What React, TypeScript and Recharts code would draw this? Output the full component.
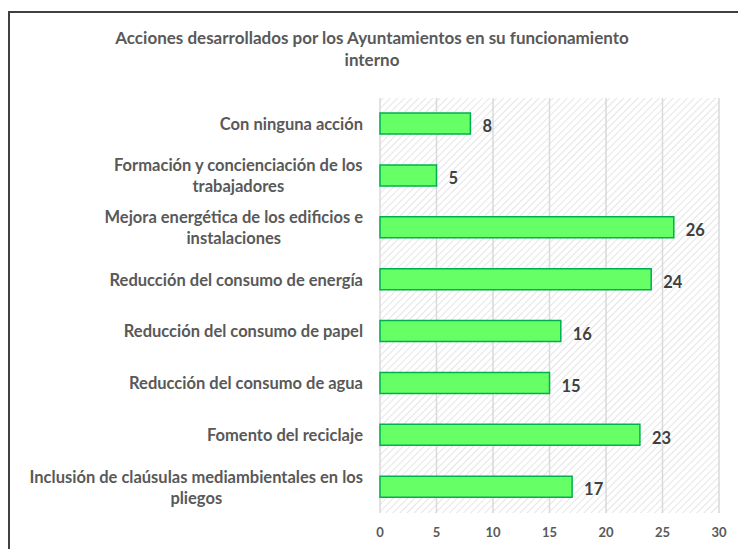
import React from 'react';
import { BarChart, Bar, XAxis, YAxis, CartesianGrid, LabelList } from 'recharts';

const categories = [
  'Con ninguna acción',
  'Formación y concienciación de los\ntrabajadores',
  'Mejora energética de los edificios e\ninstalaciones',
  'Reducción del consumo de energía',
  'Reducción del consumo de papel',
  'Reducción del consumo de agua',
  'Fomento del reciclaje',
  'Inclusión de claúsulas mediambientales en los\npliegos',
];
const values = [8, 5, 26, 24, 16, 15, 23, 17];
const xTicks = [0, 5, 10, 15, 20, 25, 30];

const data = categories.map((name, i) => ({ name, value: values[i] }));

const FONT = 'Lato, "Liberation Sans", sans-serif';
const LABEL_SIZE = 16.5;

let ctx: CanvasRenderingContext2D | null = null;
function textWidth(s: string) {
  if (!ctx) ctx = document.createElement('canvas').getContext('2d');
  if (!ctx) return s.length * 8;
  ctx.font = `bold ${LABEL_SIZE}px ${FONT}`;
  return ctx.measureText(s).width;
}

// centred multi-line category label, right edge of the block near the plot
function CategoryTick(props: any) {
  const { y, payload } = props;
  const lines: string[] = String(payload.value).split('\n');
  const maxW = Math.max(...lines.map(textWidth));
  const cx = 363 - maxW / 2;
  const lh = 21;
  const first = y + 6 - ((lines.length - 1) * lh) / 2;
  return (
    <text
      textAnchor="middle"
      fill="#595959"
      fontFamily={FONT}
      fontWeight="bold"
      fontSize={LABEL_SIZE}
    >
      {lines.map((l, i) => (
        <tspan key={i} x={cx} y={first + i * lh}>
          {l}
        </tspan>
      ))}
    </text>
  );
}

export default function App() {
  return (
    <div
      style={{
        position: 'fixed',
        left: 0,
        top: 0,
        width: 738,
        height: 549,
        overflow: 'hidden',
        background: '#fff',
      }}
    >
      <svg width={0} height={0} style={{ position: 'absolute' }}>
        <defs>
          <pattern
            id="hatch"
            patternUnits="userSpaceOnUse"
            width={5}
            height={5}
            patternTransform="rotate(45)"
          >
            <rect width={5} height={5} fill="#ffffff" />
            <line x1={0} y1={0} x2={0} y2={5} stroke="#d4d4d4" strokeWidth={1.2} />
          </pattern>
        </defs>
      </svg>
      <div
        style={{
          position: 'absolute',
          left: 8,
          top: 11,
          width: 730,
          height: 538,
          borderLeft: '2px solid #404040',
          borderTop: '2px solid #404040',
          boxSizing: 'border-box',
        }}
      />
      <div
        style={{
          position: 'absolute',
          left: 0,
          top: 27,
          width: 738,
          paddingLeft: 6,
          boxSizing: 'border-box',
          textAlign: 'center',
          fontFamily: FONT,
          fontWeight: 'bold',
          fontSize: 17,
          lineHeight: '22px',
          color: '#595959',
        }}
      >
        Acciones desarrollados por los Ayuntamientos en su funcionamiento
        <br />
        interno
      </div>
      <div style={{ position: 'absolute', left: 0, top: 0 }}>
        <BarChart
          width={738}
          height={549}
          data={data}
          layout="vertical"
          margin={{ top: 98, right: 19, bottom: 6, left: 0 }}
        >
          <CartesianGrid
            horizontal={false}
            stroke="#d9d9d9"
            strokeWidth={1.5}
            fill="url(#hatch)"
            fillOpacity={1}
          />
          <XAxis
            type="number"
            domain={[0, 30]}
            ticks={xTicks}
            height={30}
            axisLine={false}
            tickLine={false}
            tickSize={0}
            tickMargin={15}
            tick={{ fill: '#595959', fontSize: 13, fontWeight: 'bold', fontFamily: FONT }}
          />
          <YAxis
            type="category"
            dataKey="name"
            width={380}
            axisLine={false}
            tickLine={false}
            interval={0}
            tick={<CategoryTick />}
          />
          <Bar
            dataKey="value"
            fill="#66ff66"
            stroke="#00b050"
            strokeWidth={1.5}
            barSize={21}
            isAnimationActive={false}
          >
            <LabelList
              dataKey="value"
              position="right"
              offset={12}
              fill="#404040"
              fontFamily={FONT}
              fontWeight="bold"
              fontSize={16.5}
              dy={3}
            />
          </Bar>
        </BarChart>
      </div>
      <div
        style={{
          position: 'absolute',
          left: 733,
          top: 13,
          width: 5,
          height: 536,
          background: '#fff',
        }}
      />
    </div>
  );
}
